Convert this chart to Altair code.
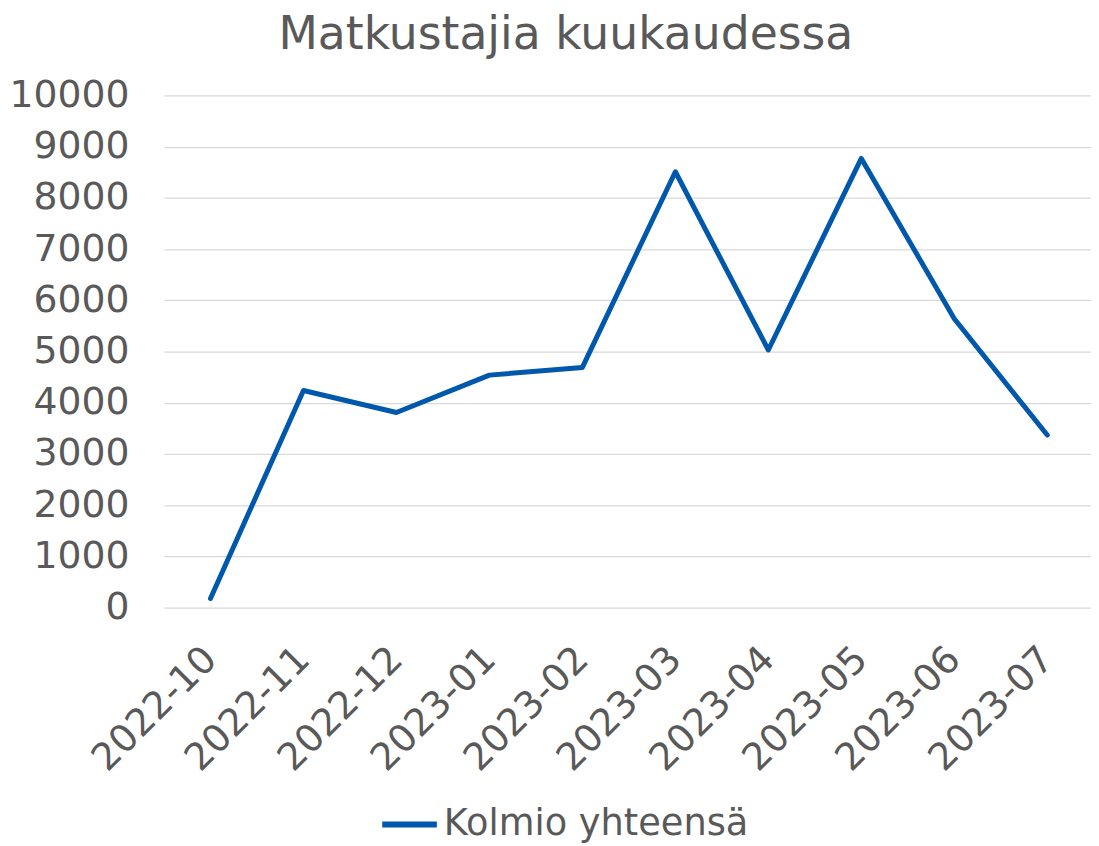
import altair as alt
import pandas as pd

months = ["2022-10", "2022-11", "2022-12", "2023-01", "2023-02",
          "2023-03", "2023-04", "2023-05", "2023-06", "2023-07"]
values = [180, 4240, 3810, 4540, 4690, 8510, 5030, 8770, 5640, 3370]
series = ["Kolmio yhteensä"] * len(months)

df = pd.DataFrame({"kuukausi": months, "matkustajia": values, "sarja": series})

FONT = "DejaVu Sans"
TXT = "#595959"

chart = alt.Chart(df).mark_line(
    strokeWidth=5, strokeCap="round", strokeJoin="round"
).encode(
    x=alt.X("kuukausi:O", sort=months,
            scale=alt.Scale(type="point", padding=0.486, align=0.516),
            axis=alt.Axis(title=None, labelAngle=-45, labelAlign="right",
                          labelBaseline="middle", labelPadding=46,
                          labelFontSize=38, labelColor=TXT, labelFont=FONT,
                          ticks=False, domain=False, grid=False)),
    y=alt.Y("matkustajia:Q",
            scale=alt.Scale(domain=[0, 10000], nice=False),
            axis=alt.Axis(title=None, values=list(range(0, 10001, 1000)),
                          format="d",
                          labelFontSize=38, labelColor=TXT, labelFont=FONT,
                          labelPadding=35, ticks=False, domain=False,
                          gridColor="#d9d9d9", gridWidth=1.3)),
    color=alt.Color("sarja:N",
                    scale=alt.Scale(range=["#0058ad"]),
                    legend=alt.Legend(title=None, orient="none",
                                      legendX=217, legendY=704,
                                      symbolType="stroke", symbolSize=3025,
                                      symbolStrokeWidth=6, labelFontSize=37,
                                      labelColor=TXT, labelFont=FONT,
                                      labelLimit=0, labelOffset=4, padding=0)),
).properties(
    width=934, height=516,
    title=alt.TitleParams("Matkustajia kuukaudessa", fontSize=46, color=TXT,
                          font=FONT, fontWeight="normal", anchor="middle",
                          dx=-62, offset=18),
    autosize=alt.AutoSizeParams(type="none"),
    padding={"left": 157, "top": 85, "right": 0, "bottom": 236},
).configure_view(stroke=None)

chart.save("out.html", embed_options={"renderer": "svg", "actions": False})
